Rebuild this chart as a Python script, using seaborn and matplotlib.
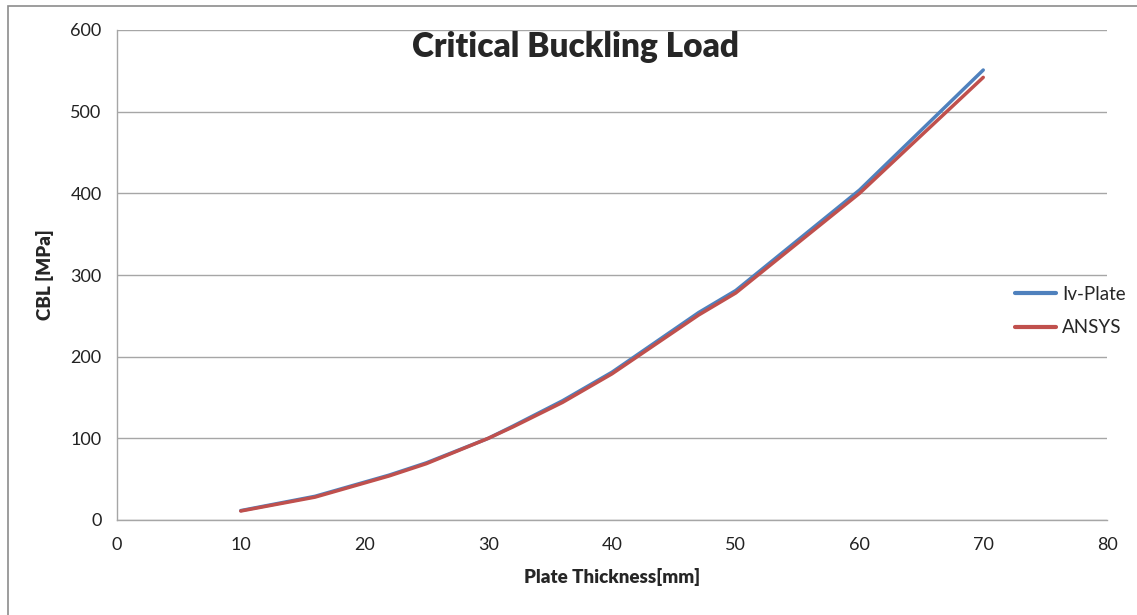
import matplotlib
matplotlib.use("Agg")
import matplotlib.pyplot as plt
import seaborn as sns
import pandas as pd
from matplotlib.patches import Rectangle

# values
thickness = [10, 16, 22, 25, 30, 32, 36, 40, 47, 50, 60, 70]
iv_plate = [11.5, 29, 55, 70, 100, 115, 146, 181, 254, 281, 404, 551]
ansys = [11, 28, 54, 69, 100, 114, 144, 179, 251, 278, 400, 542]
series_names = ["Iv-Plate", "ANSYS"]
colors = ["#4F81BD", "#C0504D"]

df = pd.concat([
    pd.DataFrame({"thickness": thickness, "cbl": iv_plate, "series": series_names[0]}),
    pd.DataFrame({"thickness": thickness, "cbl": ansys, "series": series_names[1]}),
])

sns.set_style("white")
plt.rcParams["font.family"] = ["Lato", "DejaVu Sans"]

fig = plt.figure(figsize=(11.37, 6.15), dpi=100)
ax = fig.add_axes([117 / 1137, 95 / 615, 990 / 1137, 490 / 615])

sns.lineplot(data=df, x="thickness", y="cbl", hue="series",
             palette=dict(zip(series_names, colors)), linewidth=2.5,
             ax=ax, legend=False, sort=False)

ax.set_xlim(0, 80)
ax.set_ylim(0, 600)
ax.set_xticks(range(0, 81, 10))
ax.set_yticks(range(0, 601, 100))
ax.grid(axis="y", color="#a6a6a6", linewidth=1)
ax.set_axisbelow(True)
for side in ["top", "right"]:
    ax.spines[side].set_visible(False)
for side in ["left", "bottom"]:
    ax.spines[side].set_color("#a6a6a6")
    ax.spines[side].set_linewidth(1)
ax.tick_params(axis="both", which="both", direction="out", length=5,
               color="#a6a6a6", labelsize=13, labelcolor="#222222", pad=6)
ax.tick_params(axis="x", pad=7)

ax.set_xlabel("Plate Thickness[mm]", fontsize=13.5, fontweight="heavy", labelpad=11)
ax.set_ylabel("CBL [MPa]", fontsize=13.5, fontweight="heavy", labelpad=12)

fig.text(575 / 1137, 1 - 47 / 615, "Critical Buckling Load", ha="center", va="center",
         fontsize=24, fontweight="heavy")

# legend on the right, outside the plot area
handles = [plt.Line2D([], [], color=c, linewidth=3) for c in colors]
fig.legend(handles, series_names, loc="center left",
           bbox_to_anchor=(998 / 1137, 1 - 311 / 615), frameon=False,
           fontsize=13.5, handlelength=2.2, handletextpad=0.3, labelspacing=0.9)

# chart border like the spreadsheet chart area
fig.patches.append(Rectangle((8 / 1137, -0.1), 1.2, 1.1 - 6 / 615,
                             transform=fig.transFigure, fill=False,
                             edgecolor="#8c8c8c", linewidth=1.2))

fig.savefig("out.png", dpi=100)
